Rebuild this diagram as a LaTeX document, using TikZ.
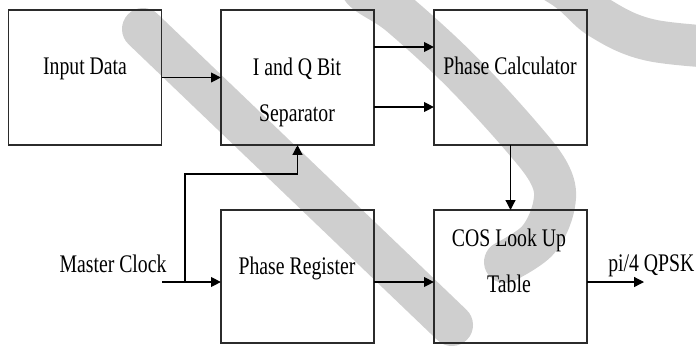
\documentclass[tikz,border=0pt]{standalone}
\usepackage{fontspec}
\setmainfont{Liberation Serif}[FakeStretch=0.78]
\usetikzlibrary{arrows.meta}
\definecolor{cline}{HTML}{2B2B2B}
\definecolor{cmark}{HTML}{CFCFCF}
\tikzset{
  every picture/.style={line width=0.9pt},
  box/.style={draw=cline, minimum width=3.83cm, minimum height=#1, inner sep=0pt, outer sep=0pt},
  box/.default=3.375cm,
  arrow/.style={-{Triangle[length=7pt, width=7pt]}, draw=black, line width=0.9pt},
  wmark/.style={draw=cmark, line width=1.05cm, line cap=round, line join=round},
  blocktext/.style={font=\fontsize{18}{32.4}\selectfont, align=center, anchor=base, inner sep=0pt},
}

\begin{document}
\begin{tikzpicture}[x=0.025cm, y=-0.025cm]
  \useasboundingbox (0,0) rectangle (696,345);
  % watermark strokes, kept behind the blocks
  \begin{scope}
    \clip (0,0) rectangle (696,345);
    \draw[wmark] (143,29) -- (452,325);
    \draw[wmark] plot[smooth, tension=0.6] coordinates {(730,48) (650,40) (600,18) (560,-15) (480,-55) (380,-45) (360,-15) (400,15) (460,70) (520,135) (550,175) (554,205) (538,240) (505,262)};
  \end{scope}
  % blocks
  \node[box] (in) at (85,77.5) {};
  \node[box] (iq) at (297.5,77.5) {};
  \node[box] (pc) at (510.5,77.5) {};
  \node[box=3.325cm] (pr) at (297.5,276.5) {};
  \node[box=3.325cm] (cos) at (510.5,276.5) {};
  % block texts (base of the last line)
  \node[blocktext] (inT) at (85,74) {Input Data};
  \node[blocktext] (iqT) at (297,121.5) {I and Q Bit\\Separator};
  \node[blocktext] (pcT) at (510,74) {Phase Calculator};
  \node[blocktext] (prT) at (297,274) {Phase Register};
  \node[blocktext] (cosT) at (509,292) {COS Look Up\\Table};
  \node[blocktext] (mcT) at (113,272) {Master Clock};
  \node[blocktext, anchor=base east] (outT) at (695,271) {pi/4 QPSK};
  % levels of the connectors
  \coordinate (hiQ) at (0,47);
  \coordinate (loQ) at (0,107);
  \coordinate (clk) at (162,282);
  \coordinate (tap) at (185,282);
  \coordinate (bend) at (185,174);
  \coordinate (out) at (644,282);
  \draw[arrow] (in.east) -- (iq.west);
  \draw[arrow] (iq.east |- hiQ) -- (pc.west |- hiQ);
  \draw[arrow] (iq.east |- loQ) -- (pc.west |- loQ);
  \draw[arrow] (pc.south) -- (cos.north);
  \draw[arrow] (clk) -- (pr.west |- clk);
  \draw[arrow] (tap) -- (bend) -| (iq.south);
  \draw[arrow] (pr.east |- clk) -- (cos.west |- clk);
  \draw[arrow] (cos.east |- clk) -- (out);
\end{tikzpicture}
\end{document}
